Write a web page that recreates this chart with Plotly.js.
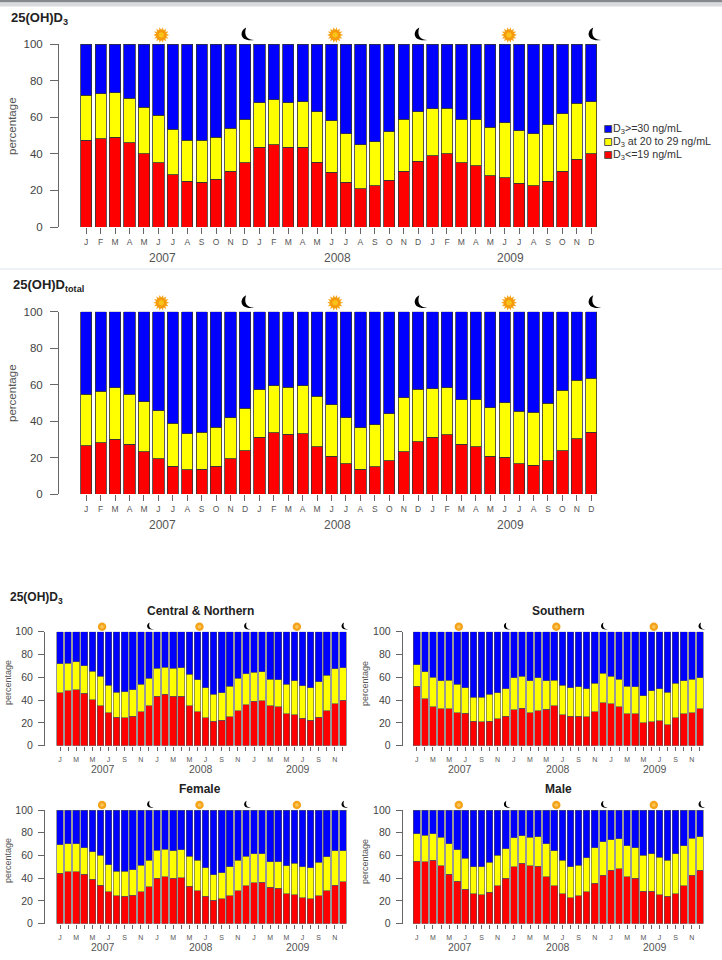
<!DOCTYPE html>
<html>
<head>
<meta charset="utf-8">
<script src="https://cdn.plot.ly/plotly-3.0.1.min.js"></script>
<style>html,body{margin:0;padding:0;background:#fff}</style>
</head>
<body>
<div id="chart" style="width:722px;height:960px"></div>
<script>
var W = 722, H = 960;
var months = ["J","F","M","A","M","J","J","A","S","O","N","D"];
var years = ["2007","2008","2009"];
var yearPositions = [5.3, 17.4, 29.4];
var sunPositions = [5.2, 17.25, 29.3];
var moonPositions = [11.15, 23.15, 35.2];
var januaryPositions = [0, 12, 24];

// Top of the red band and top of the yellow band, in percent
var d3Low = [47.3,48.2,49,46,40,35,28.5,25,24.5,26,30.5,35, 43.5,45,43.5,43.5,35.5,30,24.5,21,22.5,25.5,30.5,36, 39,40,35,33.5,28,27,24,22.5,25,30.5,37,40];
var d3Top = [72,72.7,73.5,70.3,65.5,61,53.5,47.5,47.5,49,54,59, 68,69.5,68,68.5,63,58,51,45,46.5,52,59,63, 64.5,65,59,58.5,54.5,57,52.5,51,56,62,67.5,68.5];
var totalLow = [26.5,28,30,27.3,23.3,19.3,15.3,13.2,13.7,15.3,19.3,23.7, 31,33.5,32.7,33,26,20.7,16.5,13.7,15,18.3,23.2,28.7, 31,32.5,27.2,26,20.7,20.2,16.7,15.7,18.2,23.7,30.3,34];
var totalTop = [54.7,56.5,58.3,54.7,50.5,45.8,38.7,33,33.8,36.5,41.8,47, 57.3,59.5,58.5,59.5,53.7,49,41.8,36.3,38,44,52.7,57.5, 57.8,58.3,51.7,51.8,47.2,50,45.5,44.8,49.8,56.8,62.3,63.5];
var centralLow = [46.5,48,49,46,40.5,35,29,25,24.5,26,30,35, 43.5,45,43.5,43.5,35,30,24.5,21.5,22.5,25.5,30.5,36, 39,39.5,35,34,28,27,24,22.5,25,30.5,37,40];
var centralTop = [72,72.5,73.5,70,65.5,61,53,47,47.5,49,54,59, 68,69,68,68.5,62.5,58,51,45,46.5,52,59,63, 64.5,65,58.5,58,54,57,52.5,51,56,62,67.5,68.5];
var southernLow = [52,41,34,32.5,32.5,29,28.5,21.5,21,21.5,23.5,26, 31.5,33,29,30.5,32,35,27,26,26,25.5,30,37.5, 37,34,28,28,20,21,22,18.5,24.5,28,29,32.5];
var southernTop = [71,65,60,57,57.5,54,51,42.5,42.5,45,46.5,50, 59.5,61,57,59.5,57,57.5,53,51,51.5,50,55,63.5, 61,58.5,52,51.5,44,48,50,47,55,57,58.5,59.5];
var femaleLow = [44.5,45.5,45.5,43.5,39,34,28,24.5,24,25,28,32.5, 40,41.5,40,40.5,33,29,24,20.5,22,24.5,29,33.5, 36,36.5,32,31,26.5,25.5,23,22,24.5,29,34,37];
var femaleTop = [69.5,70.5,70.5,67,63.5,60,52,46,46,47.5,51.5,56, 64.5,65.5,64,65,59.5,56,49,43,45,50,56,59.5, 61.5,61.5,54.5,54.5,51,53,50,49,54,59,64,64];
var maleLow = [55,54.5,56,51,43.5,37.5,30.5,26.5,25.5,27.5,33.5,40, 50,53,51,50.5,41.5,33.5,26.5,23,24.5,28,35.5,42.5, 47,48.5,41.5,40,28.5,28.5,25.5,24,26.5,33.5,42.5,47];
var maleTop = [79,78,79,76,70.5,65,57.5,50,50,54,60,66, 75.5,77.5,76,76.5,70.5,64,56,50,51.5,58,67,72, 74,74.5,68.5,67,60,61.5,58.5,56,61.5,68.5,75,76.5];

var seriesNames = ["D<sub>3</sub>&lt;=19 ng/mL","D<sub>3</sub> at 20 to 29 ng/mL","D<sub>3</sub>&gt;=30 ng/mL"];
var seriesColors = ["#ff0000","#ffff00","#0000ff"];
var FONT = "Liberation Sans, Arial, sans-serif";
var GREY = "#555555";

function fx(px){return px/W;}
function fy(py){return 1-py/H;}

var traces = [];
var layout = {
  width:W, height:H, autosize:false,
  margin:{l:0,r:0,t:0,b:0},
  paper_bgcolor:"#ffffff", plot_bgcolor:"#ffffff",
  barmode:"stack", showlegend:false,
  font:{family:FONT,color:GREY},
  annotations:[], shapes:[]
};

function circlePath(r){
  var k = r*0.5523;
  return "M"+(-r)+",0C"+(-r)+","+k+" "+(-k)+","+r+" 0,"+r+"C"+k+","+r+" "+r+","+k+" "+r+",0C"+r+","+(-k)+" "+k+","+(-r)+" 0,"+(-r)+"C"+(-k)+","+(-r)+" "+(-r)+","+(-k)+" "+(-r)+",0Z";
}
function sunRays(outer,inner,count){
  var p = "";
  for(var i=0;i<count*2;i++){
    var r = i%2===0 ? outer : inner, a = Math.PI*i/count;
    p += (i===0?"M":"L")+(r*Math.cos(a)).toFixed(2)+","+(r*Math.sin(a)).toFixed(2);
  }
  return p+"Z";
}
function moonPath(s){
  function c(x,y){return (x*s).toFixed(2)+","+(y*s).toFixed(2);}
  return "M"+c(-1,7.5)+"C"+c(-8,4)+" "+c(-8,-7)+" "+c(7,-5)+
         "C"+c(1,-5)+" "+c(-4,-1)+" "+c(-1,7.5)+"Z";
}
function icon(xid,pos,anchorPy,path,color){
  layout.shapes.push({type:"path",xref:xid,yref:"paper",xsizemode:"pixel",ysizemode:"pixel",
    xanchor:pos,yanchor:fy(anchorPy),path:path,fillcolor:color,line:{width:0},layer:"above"});
}

function addPanel(n,low,top,box,big,title){
  var xs = [], labelVals = [], labels = [];
  for(var i=0;i<36;i++){
    xs.push(i);
    if(big || i%2===0){labelVals.push(i);labels.push(months[i%12]);}
  }
  var suffix = n===1?"":String(n), xid = "x"+suffix, yid = "y"+suffix;
  var mid = low.map(function(v,i){return top[i]-v;});
  var high = top.map(function(v){return 100-v;});
  [low,mid,high].forEach(function(vals,k){
    traces.push({type:"bar",x:xs,y:vals,xaxis:xid,yaxis:yid,name:seriesNames[k],
      width:big?0.78:0.82,
      marker:{color:seriesColors[k],line:{color:big?"#333333":"#555555",width:big?0.8:0.6}}});
  });
  traces.push({type:"scatter",mode:"markers",x:januaryPositions,y:januaryPositions.map(function(){return big?-2.6:-2.9;}),
    xaxis:xid,yaxis:yid,cliponaxis:false,hoverinfo:"skip",
    marker:{symbol:"line-ns",size:big?9:6,line:{color:"#000",width:big?2:1.6}}});
  layout["xaxis"+suffix] = {
    // runs half a month past the last bar so the last moon is not clipped
    domain:[fx(box.l),fx(box.r+box.pitch/2)], anchor:yid,
    range:[(box.l-box.first)/box.pitch, 36],
    tickmode:"array",tickvals:labelVals,ticktext:labels,
    ticks:"outside",ticklen:big?6:4,tickcolor:"#666",tickwidth:1,
    minor:{tickmode:"array",tickvals:xs,ticks:"outside",ticklen:big?6:4,tickcolor:"#666",tickwidth:1,showgrid:false},
    ticklabelstandoff:big?1:3,
    tickfont:{size:big?8.5:7,color:GREY,family:FONT},
    showline:false,showgrid:false,zeroline:false,fixedrange:true
  };
  layout["yaxis"+suffix] = {
    domain:[fy(box.y0),fy(box.y100)], anchor:xid,
    range:[0,100],tickmode:"array",tickvals:[0,20,40,60,80,100],
    ticks:"outside",ticklen:big?8:6,tickcolor:"#666",tickwidth:1,
    ticklabelstandoff:big?5:3,
    tickfont:{size:big?11.5:10.5,color:"#444",family:FONT},
    showline:true,linecolor:"#666",linewidth:1,
    showgrid:false,zeroline:false,fixedrange:true
  };
  layout.annotations.push({xref:"paper",yref:"paper",x:fx(box.ylabelX),y:fy(box.ylabelY),textangle:-90,
    xanchor:"center",yanchor:"middle",text:"percentage",showarrow:false,
    font:{size:big?11.5:9,color:GREY,family:FONT}});
  years.forEach(function(y,i){
    layout.annotations.push({xref:xid,yref:"paper",x:yearPositions[i],y:fy(box.y0+(big?31:23.5)),
      xanchor:"center",yanchor:"middle",text:y,showarrow:false,font:{size:big?12:10.5,color:GREY,family:FONT}});
  });
  var iconY = box.y100-(big?9:5);
  sunPositions.forEach(function(p){
    if(big){
      icon(xid,p,iconY,sunRays(8,5.2,14),"#f6a51c");
      icon(xid,p,iconY,circlePath(5),"#f59a0c");
      icon(xid,p,iconY,circlePath(2.8),"#fbc21a");
    }else{
      icon(xid,p,iconY,circlePath(4.2),"#f4a31a");
      icon(xid,p,iconY,circlePath(1.8),"#f9c65a");
    }
  });
  moonPositions.forEach(function(p){
    icon(xid,p,iconY,moonPath(big?1:0.55),"#000");
  });
  if(title){
    layout.annotations.push({xref:"paper",yref:"paper",x:fx(title.x),y:fy(title.y),xanchor:"center",yanchor:"middle",
      text:"<b>"+title.text+"</b>",showarrow:false,font:{size:12,color:"#222",family:FONT}});
  }
}

function note(x,y,text,size,color){
  layout.annotations.push({xref:"paper",yref:"paper",x:fx(x),y:fy(y),xanchor:"left",yanchor:"middle",borderpad:0,
    text:text,showarrow:false,font:{size:size,color:color,family:FONT}});
}

addPanel(1,d3Low,d3Top,{l:59,r:598.5,first:86.2,pitch:14.42,y100:44,y0:227,ylabelX:12,ylabelY:126},true);
addPanel(2,totalLow,totalTop,{l:59,r:598.5,first:86.2,pitch:14.42,y100:311.7,y0:494,ylabelX:12,ylabelY:393},true);
addPanel(3,centralLow,centralTop,{l:45,r:347,first:60,pitch:8.07,y100:631.7,y0:745.7,ylabelX:8,ylabelY:683},false,{text:"Central &amp; Northern",x:200,y:611});
addPanel(4,southernLow,southernTop,{l:402.7,r:704,first:416.7,pitch:8.08,y100:631.7,y0:745.7,ylabelX:365,ylabelY:683},false,{text:"Southern",x:558,y:611});
addPanel(5,femaleLow,femaleTop,{l:45,r:347,first:60,pitch:8.07,y100:810,y0:923.7,ylabelX:8,ylabelY:861},false,{text:"Female",x:200,y:789});
addPanel(6,maleLow,maleTop,{l:402.7,r:704,first:416.7,pitch:8.08,y100:810,y0:923.7,ylabelX:365,ylabelY:861},false,{text:"Male",x:558,y:789});

note(10,18,"<b>25(OH)D<sub>3</sub></b>",13,"#222");
note(11.5,286,"<b>25(OH)D<sub>total</sub></b>",13,"#222");
note(9,598,"<b>25(OH)D<sub>3</sub></b>",12,"#222");

// Legend, in the order the reference stacks it
[2,1,0].forEach(function(k,row){
  var cy = 129+row*13;
  layout.shapes.push({type:"rect",xref:"paper",yref:"paper",x0:fx(604.7),x1:fx(611.7),y0:fy(cy-3.5),y1:fy(cy+3.5),
    fillcolor:seriesColors[k],line:{color:"#555",width:1}});
  note(612,cy,seriesNames[k],10.7,"#333");
});

// Grey strips of the original page
layout.shapes.push({type:"rect",xref:"paper",yref:"paper",x0:0,x1:1,y0:fy(2.5),y1:1,fillcolor:"#85898e",line:{width:0},layer:"below"});
layout.shapes.push({type:"rect",xref:"paper",yref:"paper",x0:0,x1:1,y0:fy(6.5),y1:fy(2.5),fillcolor:"#d8dadd",line:{width:0},layer:"below"});
layout.shapes.push({type:"rect",xref:"paper",yref:"paper",x0:0,x1:1,y0:fy(270),y1:fy(268),fillcolor:"#eef1f5",line:{width:0},layer:"below"});

Plotly.newPlot("chart",traces,layout,{displayModeBar:false,staticPlot:true});
</script>
</body>
</html>
